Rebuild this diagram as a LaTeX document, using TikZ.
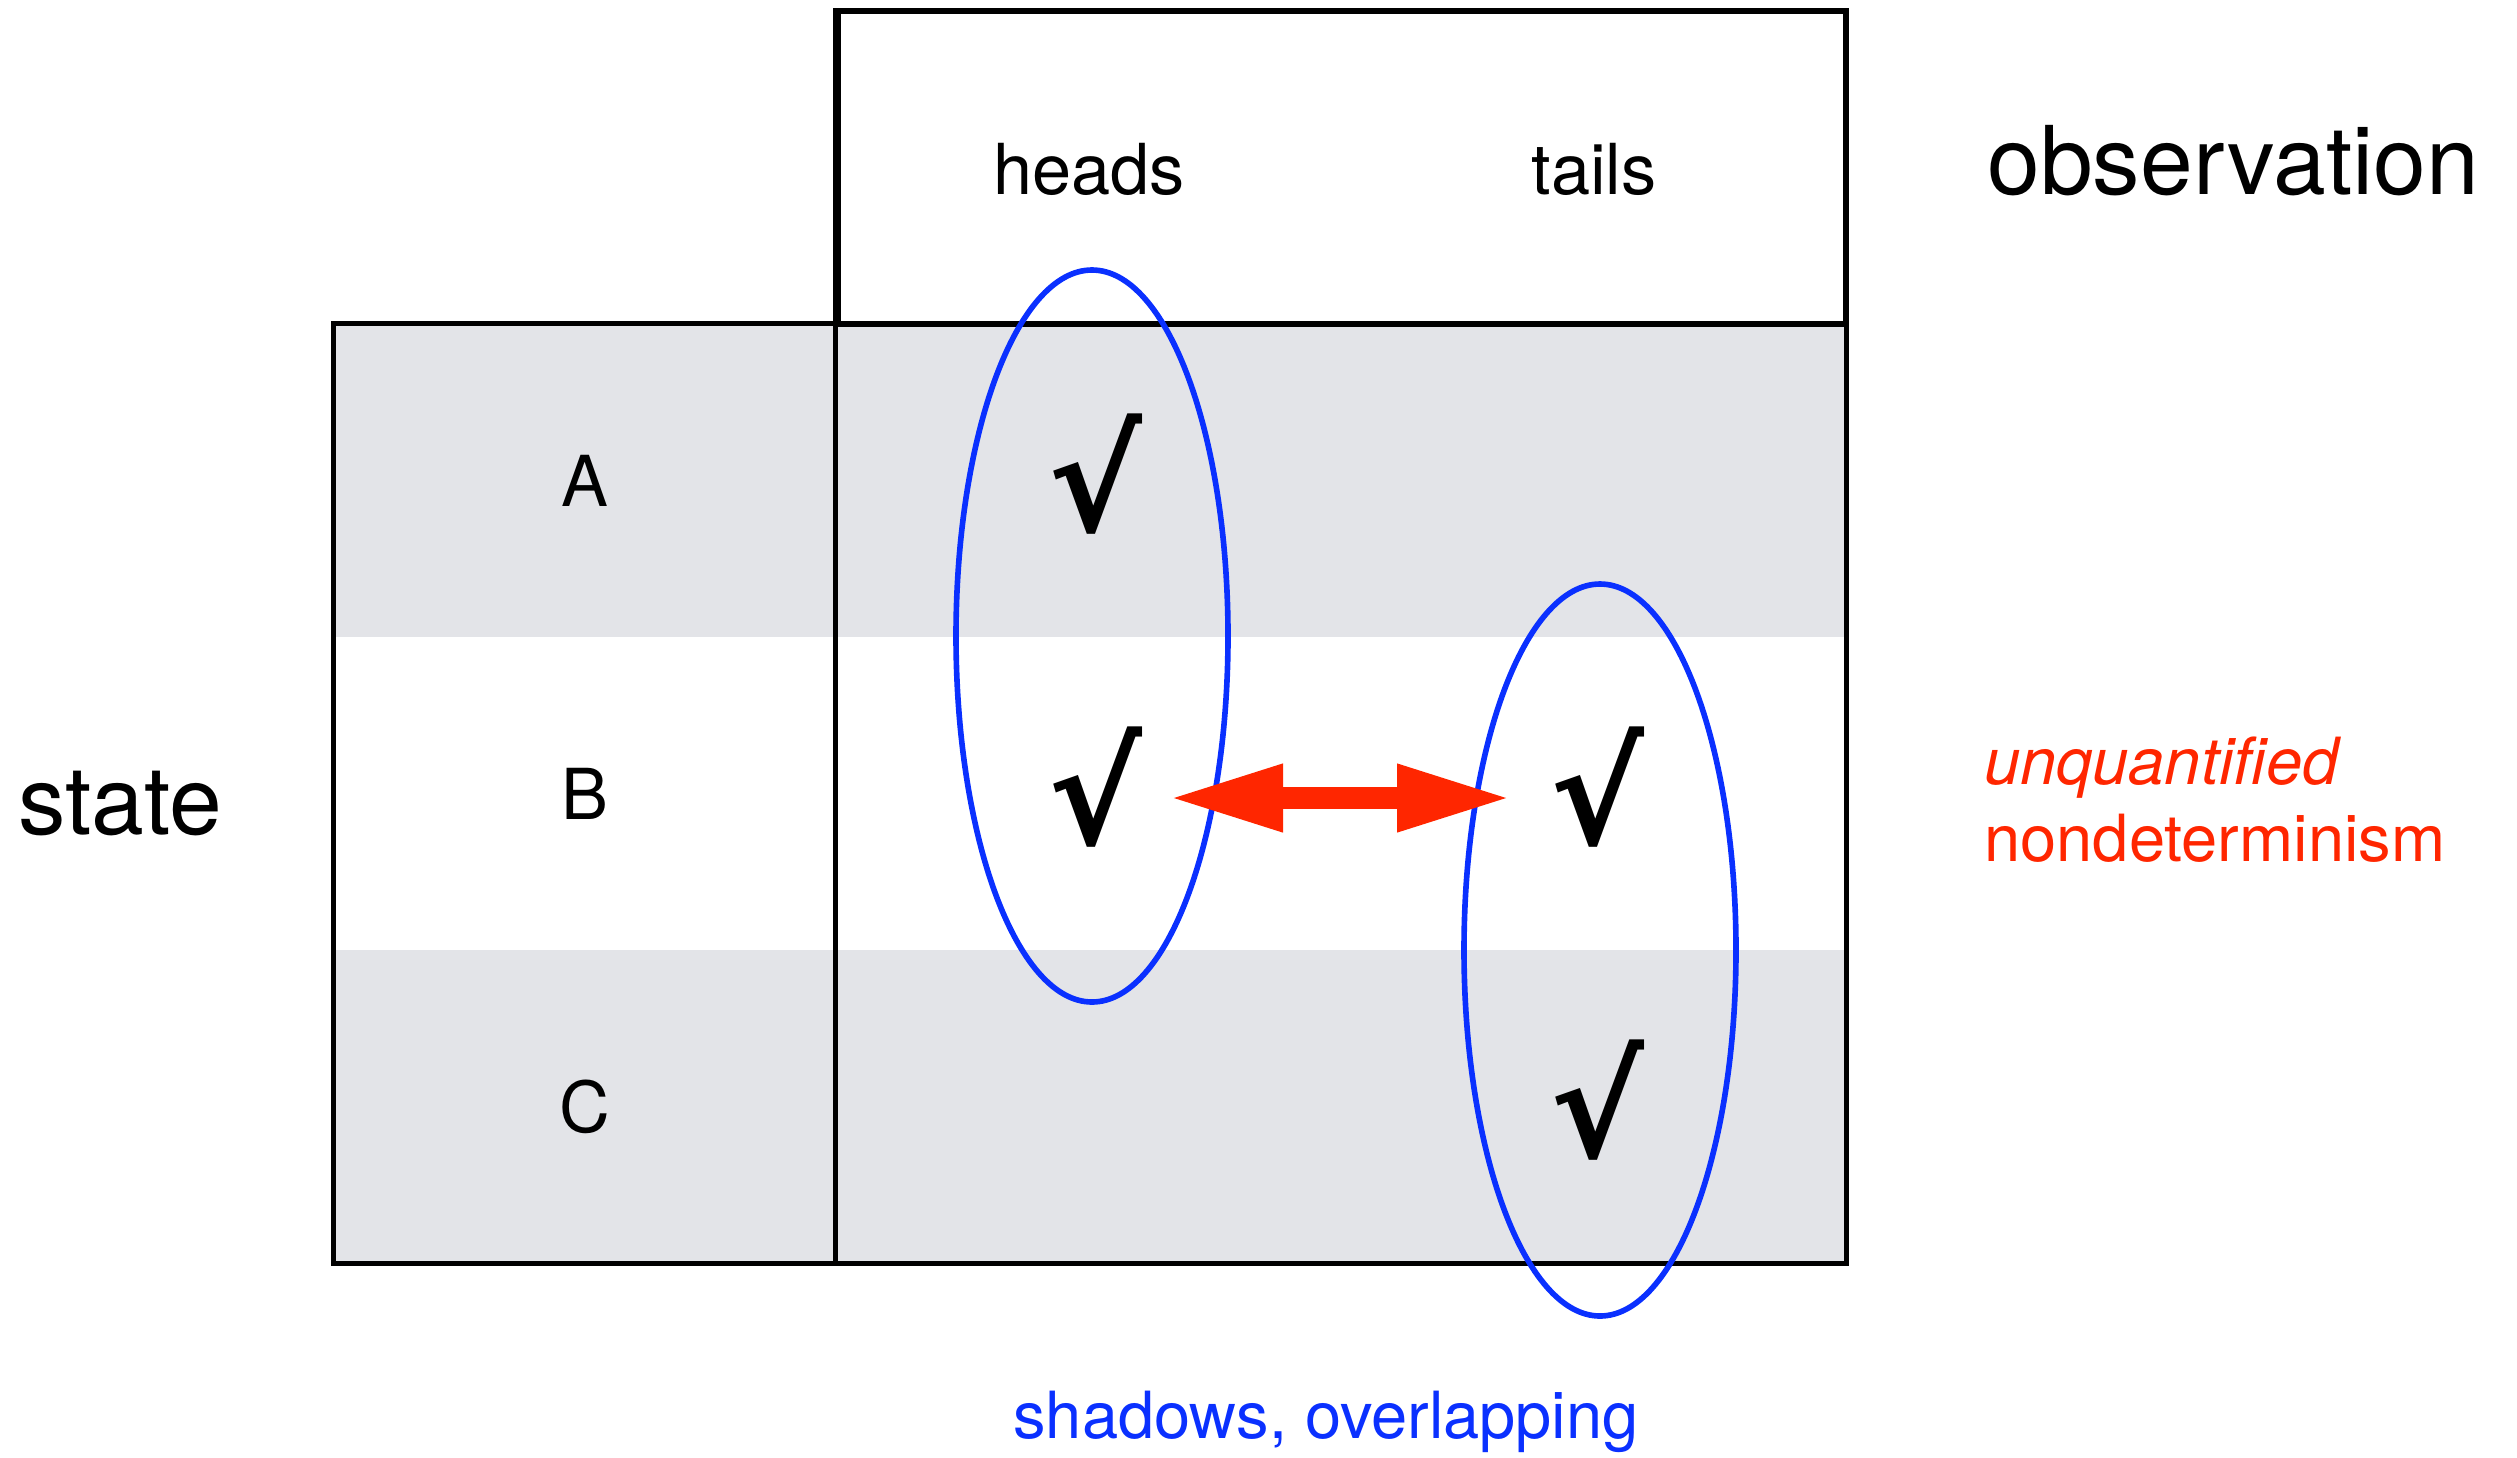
\documentclass[tikz,border=0pt]{standalone}
\usepackage{fontspec}
\setmainfont{TeX Gyre Heros}
\newfontfamily\symfont{DejaVu Sans}
\usepackage{xcolor}
\usetikzlibrary{arrows.meta, positioning, shapes.geometric, calc}

\definecolor{rowgray}{RGB}{227,228,232}
\definecolor{noteRed}{RGB}{255,38,0}
\definecolor{shadowBlue}{RGB}{10,48,255}

\begin{document}
\begin{tikzpicture}[
    grid/.style={draw, line width=1.5pt},
    row/.style={minimum width=15.12cm, minimum height=3.13cm, inner sep=0pt},
    cellfont/.style={font=\fontsize{20}{24}\selectfont},
    axis/.style={font=\fontsize{27}{32}\selectfont, anchor=west},
    tick/.style={font=\symfont\bfseries\fontsize{40}{40}\selectfont, inner sep=0pt},
    shadowset/.style={draw=shadowBlue, ellipse, line width=1.6pt, minimum width=2.72cm, minimum height=7.32cm, inner sep=0pt},
    note/.style={font=\fontsize{18.5}{22}\selectfont, align=left},
    both/.style={{Triangle[length=1.15cm, width=0.62cm]}-{Triangle[length=1.15cm, width=0.62cm]}, line width=0.22cm, draw=noteRed}
]

\useasboundingbox (0,0) rectangle (25.17,-14.57);

% rows of the table
\node[row, fill=rowgray] (rA) at (10.90,-4.805) {};
\node[row] (rB) at (10.90,-7.935) {};
\node[row, fill=rowgray] (rC) at (10.90,-11.065) {};
\node[grid, minimum width=10.08cm, minimum height=3.13cm, inner sep=0pt] (hdr) at (13.42,-1.675) {};

\draw[grid] (rA.north west) rectangle (rC.south east);
\draw[grid] (hdr.north west) -- (hdr.north west |- rC.south);

\node[cellfont] (heads) at (10.89,-1.69) {heads};
\node[cellfont] (tails) at (15.94,-1.69) {tails};
\node[cellfont] (sA) at (5.85,-4.805) {A};
\node[cellfont] (sB) at (5.85,-7.935) {B};
\node[cellfont] (sC) at (5.85,-11.065) {C};

\node[axis] (obs) at (19.75,-1.61) {observation};
\node[axis] (state) at (0.06,-8.03) {state};

% ellipses
\node[shadowset] (sh1) at (10.92,-6.36) {};
\node[shadowset] (sh2) at (16.00,-9.50) {};

\node[tick] (cAH) at (10.95,-4.74) {√};
\node[tick] (cBH) at (10.95,-7.87) {√};
\node[tick] (cBT) at (15.97,-7.87) {√};
\node[tick] (cCT) at (15.97,-11.00) {√};

\coordinate (arrL) at (11.68,-7.98);
\coordinate (arrR) at (15.12,-7.98);
\draw[both] (arrL) -- (arrR);

\node[note, text=noteRed, anchor=west] (nd) at (19.72,-8.0) {\textit{unquantified}\\nondeterminism};
\node[note, text=shadowBlue] (ov) at (13.26,-14.22) {shadows, overlapping};

\end{tikzpicture}
\end{document}
